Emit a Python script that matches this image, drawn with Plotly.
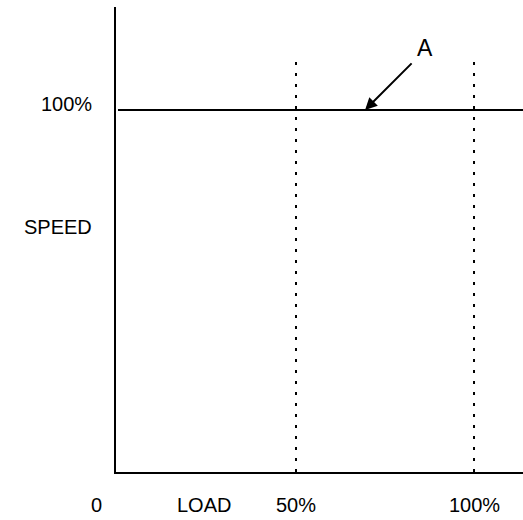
import plotly.graph_objects as go

# Data
load_marks = [50, 100]            # dotted vertical reference lines (% load)
speed_level = 100                 # curve A: constant speed (%)
curve_x = [0, 113.8]
curve_y = [speed_level, speed_level]
dotted_top = 115.2
x_labels = ["0", "LOAD", "50%", "100%"]
x_label_pos = [-5.9, 24.2, 50, 100]
y_labels = ["100%", "SPEED"]
y_label_pos = [101.6, 67.8]
curve_name = "A"
arrow_head = (69.4, 100)
arrow_tail = (82.9, 113.3)
label_pos = (86.2, 117.1)

X_RANGE = [-0.56, 113.76]
Y_RANGE = [0, 128.45]
FONT = "Liberation Sans, Arial, sans-serif"

fig = go.Figure()
for xm in load_marks:
    fig.add_trace(go.Scatter(x=[xm, xm], y=[0, dotted_top], mode="lines",
                             line=dict(color="black", width=2, dash="3px,8px"),
                             hoverinfo="skip", showlegend=False))
fig.add_trace(go.Scatter(x=curve_x, y=curve_y, mode="lines",
                         line=dict(color="black", width=2),
                         showlegend=False, name=curve_name))

ann = []
for t, xv in zip(x_labels, x_label_pos):
    xp = (xv - X_RANGE[0]) / (X_RANGE[1] - X_RANGE[0])
    ann.append(dict(x=xp, y=-0.071, xref="paper", yref="paper", text=t, showarrow=False,
                    xanchor="center", yanchor="middle",
                    font=dict(family=FONT, size=20, color="black")))
for t, yv in zip(y_labels, y_label_pos):
    ann.append(dict(x=-0.055, y=yv, xref="paper", yref="y", text=t, showarrow=False,
                    xanchor="right", yanchor="middle",
                    font=dict(family=FONT, size=20, color="black")))
ann.append(dict(x=arrow_head[0], y=arrow_head[1], ax=arrow_tail[0], ay=arrow_tail[1],
                xref="x", yref="y", axref="x", ayref="y", text="", showarrow=True,
                arrowhead=2, arrowsize=1.2, arrowwidth=2, arrowcolor="black"))
ann.append(dict(x=label_pos[0], y=label_pos[1], xref="x", yref="y", text=curve_name,
                showarrow=False, xanchor="center", yanchor="middle",
                font=dict(family=FONT, size=23, color="black")))

fig.update_layout(
    width=523, height=520,
    margin=dict(l=116, r=0, t=7, b=48),
    paper_bgcolor="white", plot_bgcolor="white",
    xaxis=dict(range=X_RANGE, showgrid=False, zeroline=False,
               showticklabels=False, ticks="", showline=True, linecolor="black", linewidth=2),
    yaxis=dict(range=Y_RANGE, showgrid=False, zeroline=False,
               showticklabels=False, ticks="", showline=True, linecolor="black", linewidth=2),
    annotations=ann,
)
fig.write_html("out.html", config={"displayModeBar": False},
               post_script="document.body.style.margin='0';document.body.style.overflow='hidden';")
